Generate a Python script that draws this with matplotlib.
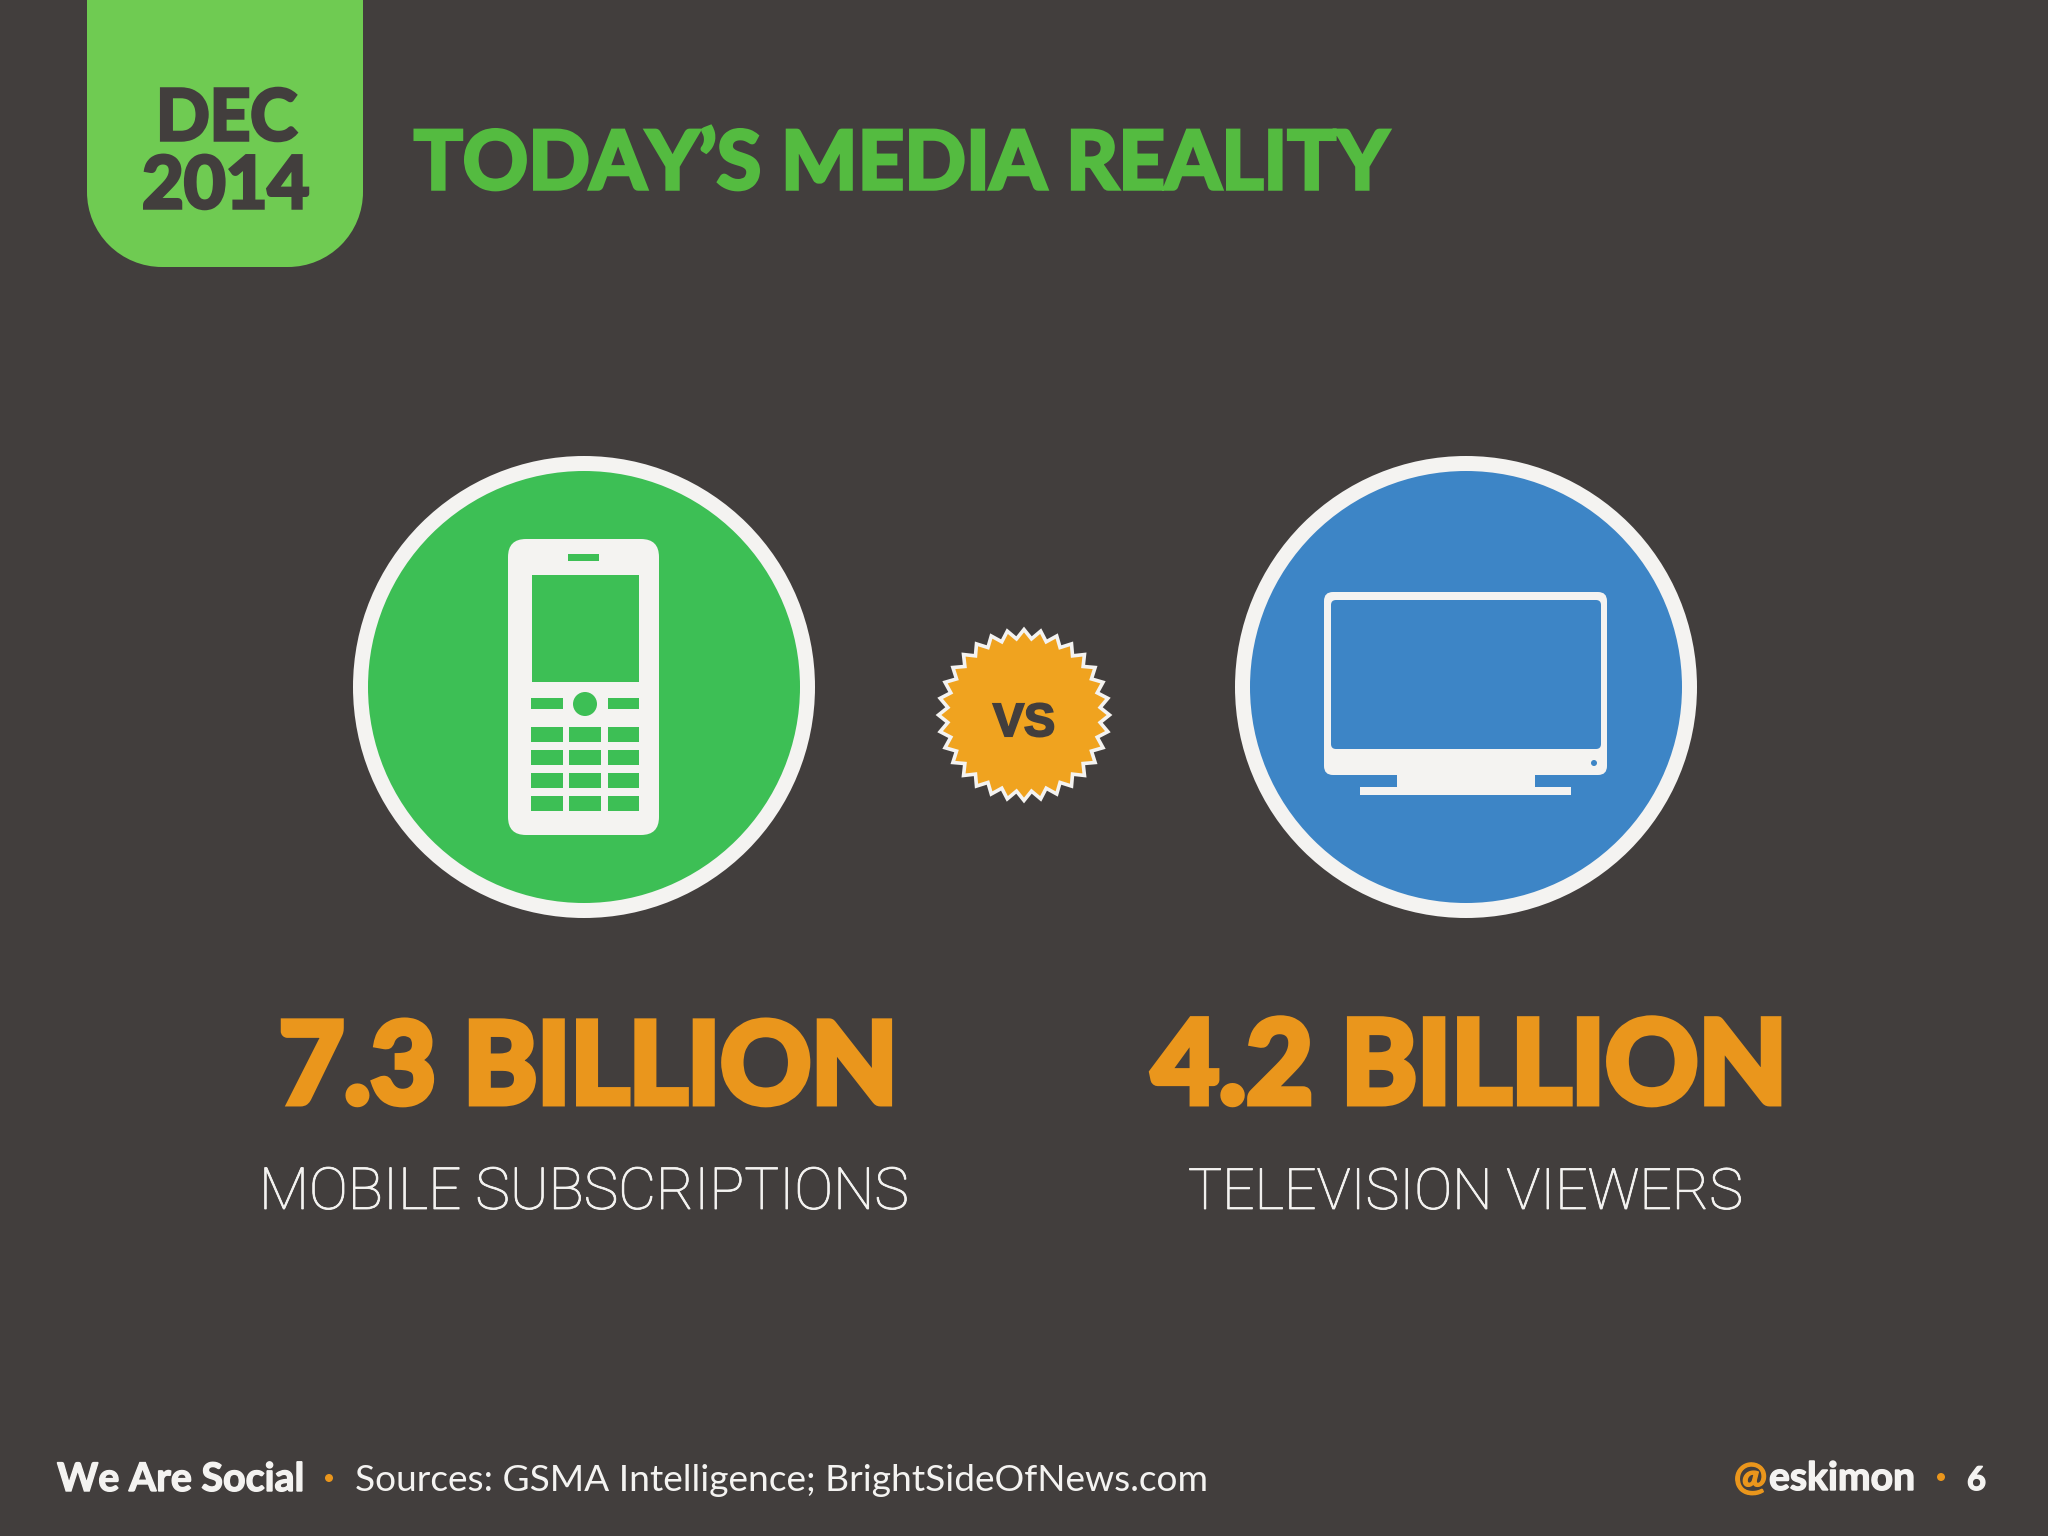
import numpy as np
import matplotlib
matplotlib.use('Agg')
from matplotlib import pyplot as plt
from matplotlib import patheffects as pe
from matplotlib.patches import Circle, FancyBboxPatch, Polygon, Rectangle

# chart content
tab_lines = ['DEC', '2014']
title = 'TODAY\u2019S MEDIA REALITY'
values = [7.3, 4.2]
value_unit = 'BILLION'
categories = ['MOBILE SUBSCRIPTIONS', 'TELEVISION VIEWERS']
badge_label = 'VS'
footer_brand = 'We Are Social'
footer_source = 'Sources: GSMA Intelligence; BrightSideOfNews.com'
footer_at = '@'
footer_handle = 'eskimon'
page_number = '6'

# colours
BG = '#423e3d'
TAB_GREEN = '#6fcb52'
TITLE_GREEN = '#54bb40'
PHONE_GREEN = '#3dbf55'
TV_BLUE = '#3d85c6'
WHITE = '#f4f3f1'
ORANGE = '#ea961c'
BADGE = '#f0a31f'

FONT = 'Lato'

fig = plt.figure(figsize=(20.48, 15.36), dpi=100, facecolor=BG)
ax = fig.add_axes([0, 0, 1, 1])
ax.set_xlim(0, 2048)
ax.set_ylim(1536, 0)
ax.axis('off')


def fit_text(x0, x1, baseline, text, color, weight, family=FONT, thick=0):
    """write text on a baseline and scale the font so it runs from x0 to x1"""
    t = ax.text(x0, baseline, text, color=color, fontsize=40, fontweight=weight,
                family=family, ha='left', va='baseline')
    r = fig.canvas.get_renderer()
    box = t.get_window_extent(r)
    t.set_fontsize(40 * (x1 - x0) / box.width)
    box = t.get_window_extent(r)
    t.set_x(x0 - (box.x0 - x0))
    if thick:
        # no heavier cut of the font, so fatten it with its own colour
        t.set_path_effects([pe.withStroke(linewidth=thick, foreground=color, joinstyle='miter')])
    return t


def rect(x0, y0, x1, y1, color, zorder=3):
    ax.add_patch(Rectangle((x0, y0), x1 - x0, y1 - y0, fc=color, ec='none', zorder=zorder))


def round_rect(x0, y0, x1, y1, rad, color, zorder=3):
    ax.add_patch(FancyBboxPatch((x0 + rad, y0 + rad), x1 - x0 - 2 * rad, y1 - y0 - 2 * rad,
                                boxstyle='round,pad=%s,rounding_size=%s' % (rad, rad),
                                fc=color, ec='none', zorder=zorder))


# date tab, square at the top and rounded at the bottom
rect(87, 0, 363, 192, TAB_GREEN, 1)
rect(162, 192, 288, 267, TAB_GREEN, 1)
ax.add_patch(Circle((162, 192), 75, fc=TAB_GREEN, ec='none', zorder=1))
ax.add_patch(Circle((288, 192), 75, fc=TAB_GREEN, ec='none', zorder=1))
fit_text(156, 297, 140, tab_lines[0], BG, 'bold', thick=2.5)
fit_text(142, 309, 208, tab_lines[1], BG, 'bold', thick=2.5)
fit_text(414, 1388, 189, title, TITLE_GREEN, 'bold', thick=2.5)

# the two big circles
for cx, fill in [(584, PHONE_GREEN), (1466, TV_BLUE)]:
    ax.add_patch(Circle((cx, 687), 231, fc=WHITE, ec='none', zorder=1))
    ax.add_patch(Circle((cx, 687), 216, fc=fill, ec='none', zorder=2))

# phone icon
round_rect(508, 539, 659, 835, 18, WHITE)
rect(568, 554, 599, 561, PHONE_GREEN, 4)
rect(532, 575, 639, 682, PHONE_GREEN, 4)
rect(531, 698, 563, 709, PHONE_GREEN, 4)
rect(608, 698, 639, 709, PHONE_GREEN, 4)
ax.add_patch(Circle((585, 704), 12, fc=PHONE_GREEN, ec='none', zorder=4))
for y0, y1 in [(727, 742), (750, 765), (773, 788), (796, 811)]:
    for x0, x1 in [(531, 563), (569, 601), (608, 639)]:
        rect(x0, y0, x1, y1, PHONE_GREEN, 4)

# tv icon
round_rect(1324, 592, 1607, 775, 9, WHITE)
round_rect(1331, 600, 1601, 749, 5, TV_BLUE, 4)
ax.add_patch(Circle((1594, 763), 3, fc=TV_BLUE, ec='none', zorder=4))
rect(1397, 770, 1535, 788, WHITE)
rect(1360, 787, 1571, 795, WHITE)

# vs badge, a 32 point burst
n_teeth = 32
ang = np.linspace(0, 2 * np.pi, 2 * n_teeth, endpoint=False) - np.pi / 2
rad = np.where(np.arange(2 * n_teeth) % 2 == 0, 85.5, 76.5)
burst = np.column_stack([1024 + rad * np.cos(ang), 715 + rad * np.sin(ang)])
ax.add_patch(Polygon(burst, closed=True, fc=BADGE, ec=WHITE, lw=2.6, joinstyle='miter', zorder=2))
fit_text(993, 1055, 736, badge_label, BG, 'bold', family='Liberation Sans', thick=1.5)

# big numbers and their captions
num_x = [(279, 898), (1152, 1787)]
cap_x = [(259, 908), (1188, 1742)]
for val, cat, nx, cx in zip(values, categories, num_x, cap_x):
    fit_text(nx[0], nx[1], 1103, '%.1f %s' % (val, value_unit), ORANGE, 'bold', thick=5)
    fit_text(cx[0], cx[1], 1209, cat, WHITE, 'light', family='Roboto', thick=0.6)

# footer
fit_text(57, 304, 1491, footer_brand, WHITE, 'bold', thick=1)
ax.add_patch(Circle((329, 1478), 4, fc=ORANGE, ec='none'))
fit_text(355, 1209, 1491, footer_source, WHITE, 'regular')
fit_text(1734, 1767, 1490, footer_at, ORANGE, 'bold', thick=1)
fit_text(1769, 1915, 1490, footer_handle, WHITE, 'bold', thick=1)
ax.add_patch(Circle((1941, 1477), 4, fc=ORANGE, ec='none'))
fit_text(1967, 1986, 1490, page_number, WHITE, 'bold', thick=1)

fig.savefig('out.png', dpi=100, facecolor=BG)
